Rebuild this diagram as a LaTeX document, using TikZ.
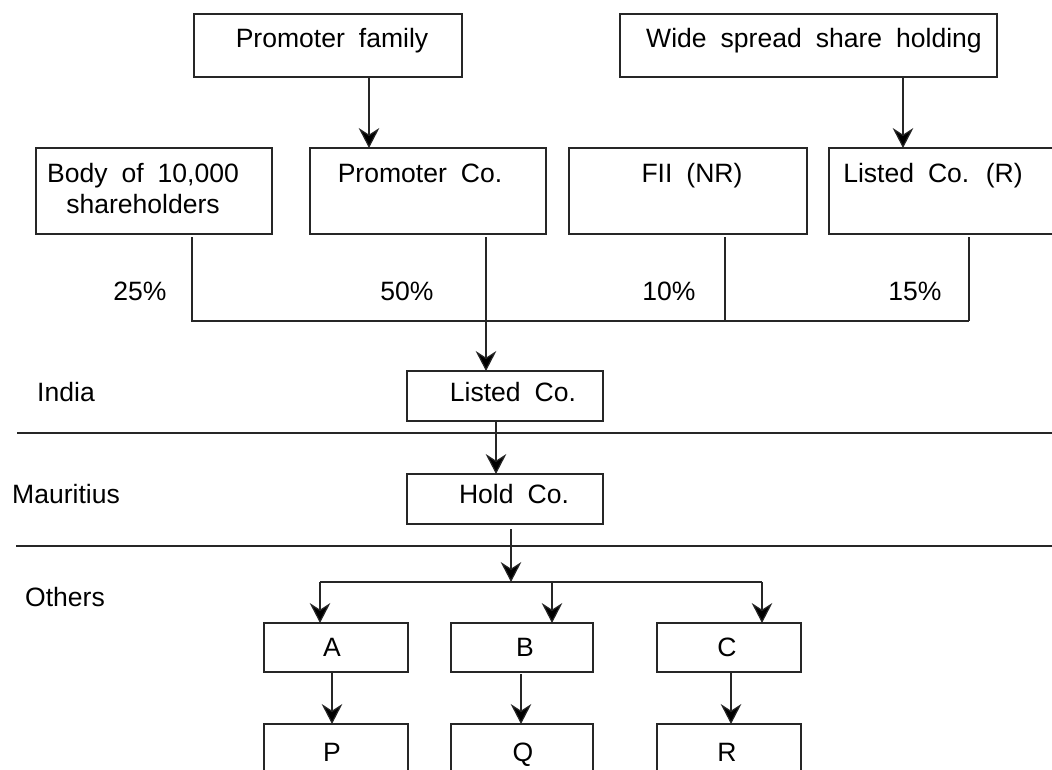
\documentclass[tikz,border=0pt]{standalone}
\usepackage{fontspec}
\setmainfont{Liberation Sans}[WordSpace=1.9]
\usetikzlibrary{arrows.meta}
\begin{document}
\begin{tikzpicture}[x=0.75pt,y=-0.75pt,
  ln/.style={line width=0.9pt, draw=black!85},
  box/.style={ln, rectangle, inner sep=0pt, outer sep=0pt},
  arr/.style={ln, -{Stealth[length=15pt, width=15.5pt, inset=5pt, fill=black]}},
  txt/.style={anchor=base, inner sep=0pt, font=\fontsize{19.9}{24}\selectfont},
  wide/.style={box, minimum width=236*0.75pt, minimum height=86*0.75pt},
  small/.style={box, minimum width=144*0.75pt, minimum height=49*0.75pt},
  mid/.style={box, minimum width=196*0.75pt, minimum height=50*0.75pt}]
\clip (0,0) rectangle (1052,769);
\fill[white] (0,0) rectangle (1052,769);

% top row
\node[box, minimum width=268*0.75pt, minimum height=63*0.75pt] (pf) at (328,45.5) {};
\node[txt] (pft) at (332,47.5) {Promoter family};
\node[box, minimum width=377*0.75pt, minimum height=63*0.75pt] (ws) at (808.5,45.5) {};
\node[txt] (wst) at (814,47.5) {Wide spread share holding};

% second row
\node[wide] (body) at (154,191) {};
\node[txt] (bodyt1) at (143,182.5) {Body of 10,000};
\node[txt] (bodyt2) at (143,213.5) {shareholders};
\node[wide] (pc) at (428,191) {};
\node[txt] (pct) at (420,182.5) {Promoter Co.};
\node[wide, minimum width=238*0.75pt] (fii) at (688,191) {};
\node[txt] (fiit) at (692,182.5) {FII (NR)};
\node[wide, minimum width=238*0.75pt] (lr) at (948,191) {};
\node[txt] (lrt) at (933,182.5) {Listed Co. (R)};

\draw[arr] (pf.south -| 369,0) -- (pc.north -| 369,0);
\draw[arr] (ws.south -| 903,0) -- (lr.north -| 903,0);

% percentages
\node[txt] (p25) at (140,300.5) {25\%};
\node[txt] (p50) at (407,300.5) {50\%};
\node[txt] (p10) at (669,300.5) {10\%};
\node[txt] (p15) at (915,300.5) {15\%};

\coordinate (hl) at (192,321);
\coordinate (hr) at (969,321);
\draw[ln] (body.south -| hl) ++(0,3) -- (hl) -- (hr);
\draw[ln] (lr.south -| hr) ++(0,3) -- (hr);
\draw[ln] (fii.south -| 725,0) ++(0,3) -- (725,321);

% India
\node[mid] (lc) at (505,396) {};
\node[txt] (lct) at (513,401.5) {Listed Co.};
\draw[arr] (pc.south -| 486,0) ++(0,3) -- (lc.north -| 486,0);
\node[txt] (india) at (66,401.5) {India};
\draw[ln] (17,433) -- (1052,433);

% Mauritius
\node[mid] (hc) at (505,499) {};
\node[txt] (hct) at (514,503.5) {Hold Co.};
\draw[arr] (lc.south -| 496,0) -- (hc.north -| 496,0);
\node[txt] (maur) at (66,503.5) {Mauritius};
\draw[ln] (16,546) -- (1052,546);

% Others
\node[txt] (oth) at (65,606.5) {Others};
\node[small] (a) at (336,647.5) {};
\node[small, minimum width=142*0.75pt] (b) at (522,647.5) {};
\node[small] (c) at (729,647.5) {};
\node[txt] (at) at (332,656.5) {A};
\node[txt] (bt) at (525,656.5) {B};
\node[txt] (ct) at (727,656.5) {C};

\coordinate (bm) at (511,582);
\coordinate (bl) at (320,582);
\coordinate (br) at (762,582);
\draw[arr] (hc.south -| bm) ++(0,5) -- (bm);
\draw[ln] (bl) -- (br);
\draw[arr] (bl) -- (a.north -| bl);
\draw[arr] (552,582) -- (b.north -| 552,0);
\draw[arr] (br) -- (c.north -| br);

\node[small] (p) at (336,748.5) {};
\node[small, minimum width=142*0.75pt] (q) at (522,748.5) {};
\node[small] (r) at (729,748.5) {};
\node[txt] (pt) at (332,761.5) {P};
\node[txt] (qt) at (523,761.5) {Q};
\node[txt] (rt) at (727,761.5) {R};

\draw[arr] (a.south -| 332,0) -- (p.north -| 332,0);
\draw[arr] (b.south -| 521,0) ++(0,2) -- (q.north -| 521,0);
\draw[arr] (c.south -| 731,0) -- (r.north -| 731,0);
\end{tikzpicture}
\end{document}
